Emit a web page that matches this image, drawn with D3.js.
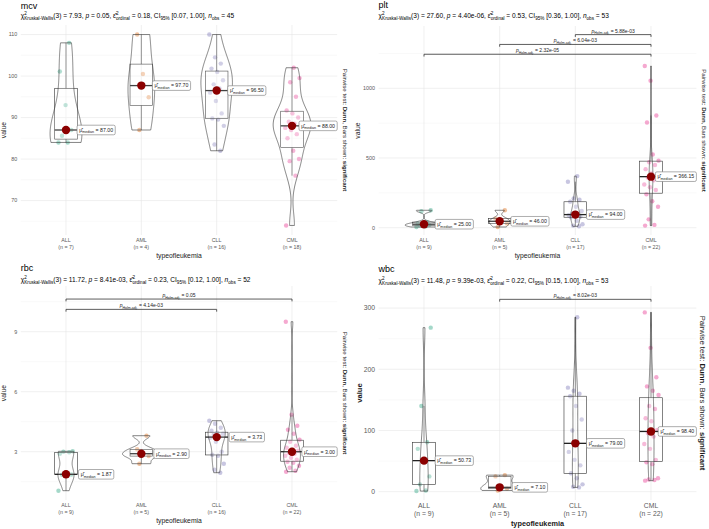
<!DOCTYPE html>
<html><head><meta charset="utf-8">
<script src="https://cdn.jsdelivr.net/npm/d3@7"></script>
<style>
body{margin:0;background:#fff}
text{font-family:"Liberation Sans",Arial,Helvetica,sans-serif;white-space:pre}
</style>
</head><body>
<svg id="c" width="709" height="529"></svg>
<script>
// ---------------- DATA ----------------
const categories = ["ALL","AML","CLL","CML"];
const panelNames = ["mcv","plt","rbc","wbc"];

const mcv_ALL = [84.0, 84.0, 85.6, 87.0, 93.0, 101.1, 108.0];
const mcv_AML = [87.0, 94.9, 100.5, 110.0];
const mcv_CLL = [82.0, 83.5, 88.0, 89.5, 89.8, 91.0, 94.0, 96.0, 97.0, 98.0, 99.0, 101.0, 101.8, 103.0, 104.5, 110.0];
const mcv_CML = [64.0, 76.0, 79.5, 80.0, 82.0, 85.0, 86.0, 87.0, 87.5, 88.5, 89.0, 90.0, 91.0, 91.7, 95.0, 98.5, 99.5, 102.0];

const plt_ALL = [5, 10, 15, 20, 25, 30, 40, 118, 125];
const plt_AML = [5, 30, 46, 65, 125];
const plt_CLL = [10, 15, 25, 50, 75, 80, 85, 90, 94, 100, 120, 150, 186, 200, 210, 330, 370];
const plt_CML = [15, 20, 60, 150, 190, 240, 270, 290, 310, 340, 360, 372.3, 390, 420, 450, 470, 480, 525, 755, 805, 1055, 1160];

const rbc_ALL = [1.05, 1.8, 1.85, 1.86, 1.87, 2.9, 2.97, 3.0, 3.02];
const rbc_AML = [2.4, 2.78, 2.9, 3.12, 3.8];
const rbc_CLL = [1.95, 2.1, 2.4, 2.8, 2.85, 3.0, 3.5, 3.7, 3.76, 3.85, 3.9, 3.95, 4.05, 4.2, 4.4, 4.55];
const rbc_CML = [2.0, 2.05, 2.2, 2.3, 2.45, 2.5, 2.6, 2.7, 2.8, 2.9, 2.95, 3.05, 3.1, 3.2, 3.3, 3.5, 3.6, 3.9, 4.1, 4.3, 4.85, 9.5];

const wbc_ALL = [1, 2, 12, 25, 50.73, 70, 80.7, 140, 268];
const wbc_AML = [2, 5, 7.1, 25, 27];
const wbc_CLL = [7, 8, 12, 22, 30, 43, 52, 65, 79, 100, 118, 140, 156, 160, 165, 170, 285];
const wbc_CML = [18, 19, 20, 22, 45, 48, 52, 70, 78, 90, 96, 100.8, 115, 120, 135, 140, 158, 165, 172, 187, 235, 293];

const mcv_ticks = [70, 80, 90, 100, 110];
const plt_ticks = [0, 500, 1000];
const rbc_ticks = [3, 6, 9];
const wbc_ticks = [0, 100, 200, 300];

const kwDf   = [3, 3, 3, 3];
const kwStat = ["7.93", "27.60", "11.72", "11.48"];
const kwP    = ["0.05", "4.40e-06", "8.41e-03", "9.39e-03"];
const epsSq  = ["0.18", "0.53", "0.23", "0.22"];
const ciLo   = ["0.07", "0.36", "0.12", "0.15"];
const ciHi   = ["1.00", "1.00", "1.00", "1.00"];

// pairwise Dunn comparisons, listed bottom bar first
const mcv_pairs = [];
const plt_pairs = [["ALL","CML","2.32e-05"], ["AML","CML","6.04e-03"], ["CLL","CML","5.88e-03"]];
const rbc_pairs = [["ALL","CLL","4.14e-03"], ["ALL","CML","0.05"]];
const wbc_pairs = [["AML","CML","8.02e-03"]];

// ---------------- LAYOUT ----------------
const colors = ["#1B9E77","#D95F02","#7570B3","#E7298A"];
const panels = [
  {name:"mcv", data:[mcv_ALL,mcv_AML,mcv_CLL,mcv_CML], ticks:mcv_ticks, pairs:mcv_pairs,
   px:[20.8,337.2], py:[235,25], dom:[61.7,112.3], titleY:8.6, subY:18.2, big:false, xMid:0},
  {name:"plt", data:[plt_ALL,plt_AML,plt_CLL,plt_CML], ticks:plt_ticks, pairs:plt_pairs,
   px:[378.6,696.4], py:[235,26], dom:[-52.4,1447], titleY:8.0, subY:18.2, big:false, xMid:354},
  {name:"rbc", data:[rbc_ALL,rbc_AML,rbc_CLL,rbc_CML], ticks:rbc_ticks, pairs:rbc_pairs,
   px:[20.8,337.2], py:[500,286], dom:[0.585,11.285], titleY:270.6, subY:281.5, big:false, xMid:0},
  {name:"wbc", data:[wbc_ALL,wbc_AML,wbc_CLL,wbc_CML], ticks:wbc_ticks, pairs:wbc_pairs,
   px:[378.6,696.4], py:[500,286], dom:[-13.6,336.1], titleY:272.2, subY:282.5, big:true, xMid:354}
];

const svg = d3.select("#c");

function rich(g, segs, base) {
  let cx = 0, lastStart = 0;
  segs.forEach(s => {
    const fs = base * (s.k || 1);
    const sx = s.stack ? lastStart : cx;
    const t = g.append("text").attr("x", sx).attr("y", (s.dy || 0) * base)
      .attr("font-size", fs).text(s.t);
    if (s.it) t.attr("font-style", "italic");
    if (s.b) t.attr("font-weight", "bold");
    const w = t.node().getComputedTextLength();
    if (s.stack) cx = Math.max(cx, sx + w); else { lastStart = sx; cx = sx + w; }
  });
  return cx;
}

function nrd0(v) {
  const s = v.slice().sort(d3.ascending);
  const sd = d3.deviation(s);
  const iqr = d3.quantileSorted(s, .75) - d3.quantileSorted(s, .25);
  let lo = Math.min(sd, iqr / 1.34);
  if (!(lo > 0)) lo = sd || 1;
  return 0.9 * lo * Math.pow(s.length, -0.2);
}
function kde(v) {
  const bw = nrd0(v), lo = d3.min(v), hi = d3.max(v);
  return d3.range(0, 161).map(i => {
    const yv = lo + (hi - lo) * i / 160;
    const d = d3.mean(v, xv => Math.exp(-0.5 * ((yv - xv) / bw) ** 2)) / (bw * Math.sqrt(2 * Math.PI));
    return [yv, d];
  });
}

panels.forEach((p, pi) => {
  const g = svg.append("g");
  const x = d3.scalePoint().domain(categories).range(p.px).padding(0.6);
  const step = x.step();
  const y = d3.scaleLinear().domain(p.dom).range(p.py);
  const tickFs = p.big ? 6.8 : 5.4;
  const xlabFs = p.big ? 6.8 : 5.3;

  // minor gridlines
  const t = p.ticks, dt = t[1] - t[0];
  const minor = [t[0] - dt / 2, ...t.map(v => v + dt / 2)].filter(v => v > p.dom[0] && v < p.dom[1]);
  g.selectAll(".mn").data(minor).join("line")
    .attr("x1", p.px[0]).attr("x2", p.px[1]).attr("y1", d => y(d)).attr("y2", d => y(d))
    .attr("stroke", "#f0f0f0").attr("stroke-width", 0.4);
  g.selectAll(".mj").data(t).join("line")
    .attr("x1", p.px[0]).attr("x2", p.px[1]).attr("y1", d => y(d)).attr("y2", d => y(d))
    .attr("stroke", "#e6e6e6").attr("stroke-width", 0.6);
  g.selectAll(".vx").data(categories).join("line")
    .attr("x1", d => x(d)).attr("x2", d => x(d)).attr("y1", p.py[0]).attr("y2", p.py[1])
    .attr("stroke", "#e6e6e6").attr("stroke-width", 0.6);

  // y tick labels
  g.selectAll(".yt").data(t).join("text")
    .attr("x", p.px[0] - 3.5).attr("y", d => y(d) + tickFs * 0.35)
    .attr("text-anchor", "end").attr("font-size", tickFs).attr("fill", "#5a5a5a")
    .text(d => d);

  // x tick labels
  categories.forEach((c, k) => {
    const n = p.data[k].length;
    const b1 = p.py[0] + (p.big ? 7.6 : 7.2);
    const b2 = p.py[0] + (p.big ? 15.8 : 13.8);
    g.append("text").attr("x", x(c)).attr("y", b1).attr("text-anchor", "middle")
      .attr("font-size", xlabFs).attr("fill", "#5a5a5a").text(c);
    g.append("text").attr("x", x(c)).attr("y", b2).attr("text-anchor", "middle")
      .attr("font-size", xlabFs).attr("fill", "#5a5a5a").text(`(n = ${n})`);
  });

  // axis titles
  const midX = (p.px[0] + p.px[1]) / 2, midY = (p.py[0] + p.py[1]) / 2;
  g.append("text").attr("x", midX).attr("y", p.py[0] + (p.big ? 25.5 : 22.8))
    .attr("text-anchor", "middle").attr("font-size", p.big ? 7.3 : 6.8)
    .attr("font-weight", p.big ? "bold" : null).attr("fill", "#1a1a1a").text("typeofleukemia");
  g.append("text").attr("transform", `translate(${p.xMid + (p.big ? 8 : 6)},${midY}) rotate(-90)`)
    .attr("text-anchor", "middle").attr("font-size", p.big ? 7.6 : 6.8)
    .attr("font-weight", p.big ? "bold" : null).attr("fill", "#1a1a1a").text("value");

  // right side caption
  const rfs = p.big ? 7.7 : 6.1;
  const rg = g.append("g").attr("fill", "#1a1a1a");
  const rw = rich(rg, [{t:"Pairwise test: "},{t:"Dunn", b:true},{t:", Bars shown: "},{t:"significant", b:true}], rfs);
  rg.attr("transform", `translate(${p.px[1] + (p.big ? 3.2 : 5.5)},${midY}) rotate(90) translate(${-rw / 2},0)`);

  // title & subtitle
  g.append("text").attr("x", p.px[0]).attr("y", p.titleY).attr("font-size", 9).attr("fill", "#000").text(p.name);
  const nobs = d3.sum(p.data, d => d.length);
  const sg = g.append("g").attr("transform", `translate(${p.px[0]},${p.subY})`).attr("fill", "#000");
  rich(sg, [
    {t:"χ"}, {t:"2", k:0.7, dy:-0.42}, {t:"Kruskal-Wallis", k:0.7, dy:0.32, stack:true},
    {t:`(${kwDf[pi]}) = ${kwStat[pi]}, `}, {t:"p", it:true}, {t:` = ${kwP[pi]}, `},
    {t:"ε\u0302"}, {t:"2", k:0.7, dy:-0.42}, {t:"ordinal", k:0.7, dy:0.32, stack:true},
    {t:` = ${epsSq[pi]}, CI`}, {t:"95%", k:0.7, dy:0.32},
    {t:` [${ciLo[pi]}, ${ciHi[pi]}], `}, {t:"n", it:true}, {t:"obs", k:0.7, dy:0.32},
    {t:` = ${nobs}`}
  ], 6.6);

  // jittered points
  p.data.forEach((vals, k) => {
    g.selectAll(null).data(vals).join("circle")
      .attr("cx", (d, i) => x(categories[k]) + ((((i * 0.618034) + 0.37 * k) % 1) - 0.5) * 2 * 0.1 * step)
      .attr("cy", d => y(d)).attr("r", 2.2)
      .attr("fill", colors[k]).attr("fill-opacity", 0.4);
  });

  // boxplots
  const boxW = 0.3 * step;
  const stats = p.data.map(vals => {
    const s = vals.slice().sort(d3.ascending);
    const q1 = d3.quantileSorted(s, .25), med = d3.quantileSorted(s, .5), q3 = d3.quantileSorted(s, .75);
    const iqr = q3 - q1;
    const lo = d3.min(s.filter(v => v >= q1 - 1.5 * iqr));
    const hi = d3.max(s.filter(v => v <= q3 + 1.5 * iqr));
    return {q1, med, q3, lo, hi};
  });
  stats.forEach((st, k) => {
    const cx = x(categories[k]);
    g.append("line").attr("x1", cx).attr("x2", cx).attr("y1", y(st.q3)).attr("y2", y(st.hi))
      .attr("stroke", "#333").attr("stroke-width", 0.6);
    g.append("line").attr("x1", cx).attr("x2", cx).attr("y1", y(st.q1)).attr("y2", y(st.lo))
      .attr("stroke", "#333").attr("stroke-width", 0.6);
    g.append("rect").attr("x", cx - boxW / 2).attr("width", boxW)
      .attr("y", y(st.q3)).attr("height", Math.max(0.5, y(st.q1) - y(st.q3)))
      .attr("fill", "#fff").attr("fill-opacity", 0.2).attr("stroke", "#333").attr("stroke-width", 0.6);
    g.append("line").attr("x1", cx - boxW / 2).attr("x2", cx + boxW / 2).attr("y1", y(st.med)).attr("y2", y(st.med))
      .attr("stroke", "#222").attr("stroke-width", 1.3);
  });

  // violins (area scaling)
  const dens = p.data.map(kde);
  const dmax = d3.max(dens, d => d3.max(d, e => e[1]));
  const halfW = 0.25 * step;
  dens.forEach((dd, k) => {
    const cx = x(categories[k]);
    const pts = dd.map(e => [cx + e[1] / dmax * halfW, y(e[0])])
      .concat(dd.slice().reverse().map(e => [cx - e[1] / dmax * halfW, y(e[0])]));
    g.append("path").attr("d", d3.line()(pts) + "Z")
      .attr("fill", "#fff").attr("fill-opacity", 0.15).attr("stroke", "#333").attr("stroke-width", 0.6);
  });

  // median points and labels
  stats.forEach((st, k) => {
    const cx = x(categories[k]), cy = y(st.med);
    g.append("circle").attr("cx", cx).attr("cy", cy).attr("r", 4.2).attr("fill", "#8B0000");
    const lg = g.append("g");
    const rect = lg.append("rect");
    const tg = lg.append("g").attr("fill", "#222");
    const fs = 5.2;
    const w = rich(tg, [{t:"μ\u0302"}, {t:"median", k:0.7, dy:0.32}, {t:` = ${st.med.toFixed(2)}`}], fs);
    const W = w + 4.4, H = 9.6;
    let left = cx + 0.4 * step - W / 2;
    if (left + W > p.px[1]) left = p.px[1] - W;
    tg.attr("transform", `translate(${left + 2.2},${cy + 1.8})`);
    rect.attr("x", left).attr("y", cy - H / 2).attr("width", W).attr("height", H).attr("rx", 1.6)
      .attr("fill", "#fff").attr("stroke", "#777").attr("stroke-width", 0.6);
  });

  // pairwise bars
  const all = p.data.flat();
  const mx = d3.max(all), mn = d3.min(all), rng = mx - mn;
  p.pairs.forEach((pr, j) => {
    const yv = y(mx + rng * (0.073 + 0.061 * j));
    const x1 = x(pr[0]), x2 = x(pr[1]);
    g.append("path").attr("d", `M${x1},${yv + 2.3}L${x1},${yv}L${x2},${yv}L${x2},${yv + 2.3}`)
      .attr("fill", "none").attr("stroke", "#333").attr("stroke-width", 0.8);
    const lg = g.append("g").attr("fill", "#222");
    const w = rich(lg, [{t:"p", it:true}, {t:"Holm-adj.", k:0.7, dy:0.32}, {t:` = ${pr[2]}`}], 5.0);
    lg.attr("transform", `translate(${(x1 + x2) / 2 - w / 2},${yv - 2})`);
  });
});
</script>
</body></html>
